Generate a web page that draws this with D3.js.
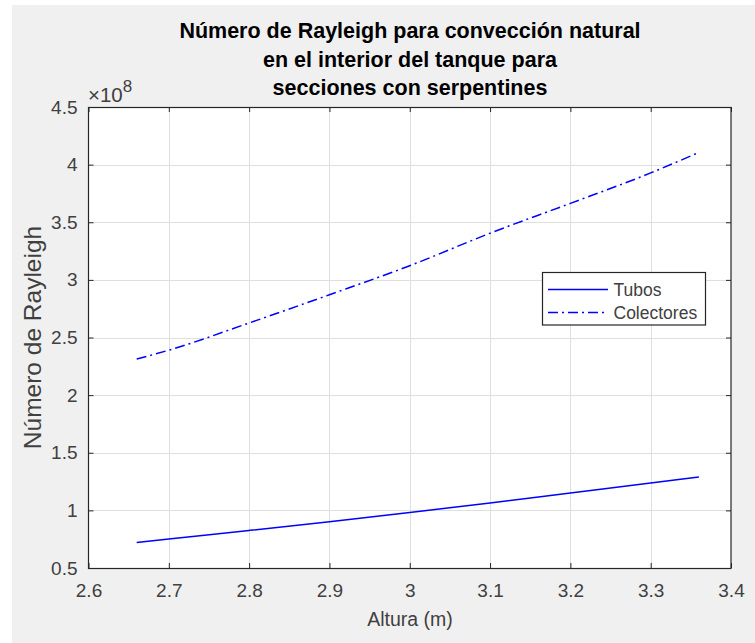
<!DOCTYPE html>
<html>
<head>
<meta charset="utf-8">
<script src="https://cdn.jsdelivr.net/npm/d3@7"></script>
<style>
  html, body { margin: 0; padding: 0; background: #ffffff; }
  svg { display: block; font-family: "Liberation Sans", Arial, Helvetica, sans-serif; }
</style>
</head>
<body>
<svg id="chart" width="755" height="643"></svg>
<script>
// Altura de la sección (m)
const altura = [2.66, 2.70, 2.80, 2.90, 3.00, 3.10, 3.20, 3.30, 3.36];
// Número de Rayleigh (en unidades de 1e8)
const rayleighTubos = [0.722, 0.752, 0.826, 0.902, 0.982, 1.064, 1.151, 1.238, 1.290];
const rayleighColectores = [2.313, 2.390, 2.626, 2.871, 3.123, 3.405, 3.664, 3.928, 4.106];
const seriesNames = ["Tubos", "Colectores"];
const exponent = 8;

const xTicks = [2.6, 2.7, 2.8, 2.9, 3.0, 3.1, 3.2, 3.3, 3.4];
const yTicks = [0.5, 1, 1.5, 2, 2.5, 3, 3.5, 4, 4.5];
const titleLines = [
  "Número de Rayleigh para convección natural",
  "en el interior del tanque para",
  "secciones con serpentines"
];

const svg = d3.select("#chart");
const axisColor = "#262626";
const textColor = "#404040";
const lineColor = "#0000ff";

// figure background
svg.append("rect").attr("x", 12).attr("y", 5).attr("width", 743).attr("height", 638).attr("fill", "#f0f0f0");

const plotLeft = 88.5, plotRight = 731, plotTop = 107, plotBottom = 568;
const x = d3.scaleLinear().domain([2.6, 3.4]).range([plotLeft, plotRight]);
const y = d3.scaleLinear().domain([0.5, 4.5]).range([plotBottom, plotTop]);

// plot area
svg.append("rect").attr("x", plotLeft).attr("y", plotTop)
  .attr("width", plotRight - plotLeft).attr("height", plotBottom - plotTop).attr("fill", "#ffffff");

// grid
const grid = svg.append("g").attr("stroke", "#dfdfdf").attr("stroke-width", 1);
grid.selectAll("line.gx").data(xTicks.slice(1, -1)).join("line")
  .attr("x1", d => Math.round(x(d)) + 0.5).attr("x2", d => Math.round(x(d)) + 0.5)
  .attr("y1", plotTop).attr("y2", plotBottom);
grid.selectAll("line.gy").data(yTicks.slice(1, -1)).join("line")
  .attr("y1", d => Math.round(y(d)) + 0.5).attr("y2", d => Math.round(y(d)) + 0.5)
  .attr("x1", plotLeft).attr("x2", plotRight);

// series
const line = d3.line().x((d, i) => x(altura[i])).y(d => y(d)).curve(d3.curveMonotoneX);
svg.append("path").datum(rayleighTubos).attr("d", line)
  .attr("fill", "none").attr("stroke", lineColor).attr("stroke-width", 1.5);
svg.append("path").datum(rayleighColectores).attr("d", line)
  .attr("fill", "none").attr("stroke", lineColor).attr("stroke-width", 1.5)
  .attr("stroke-dasharray", "10,4,2,4");

// axes with inward ticks on all four sides
const tickLen = 5;
const fmt = d => String(+d.toFixed(1));
const xb = svg.append("g").attr("transform", `translate(0,${plotBottom})`)
  .call(d3.axisBottom(x).tickValues(xTicks).tickFormat(fmt).tickSizeInner(-tickLen).tickSizeOuter(0));
const xt = svg.append("g").attr("transform", `translate(0,${plotTop})`)
  .call(d3.axisTop(x).tickValues(xTicks).tickFormat("").tickSizeInner(-tickLen).tickSizeOuter(0));
const yl = svg.append("g").attr("transform", `translate(${plotLeft},0)`)
  .call(d3.axisLeft(y).tickValues(yTicks).tickFormat(fmt).tickSizeInner(-tickLen).tickSizeOuter(0).tickPadding(tickLen + 6));
const yr = svg.append("g").attr("transform", `translate(${plotRight},0)`)
  .call(d3.axisRight(y).tickValues(yTicks).tickFormat("").tickSizeInner(-tickLen).tickSizeOuter(0));
[xb, xt, yl, yr].forEach(g => {
  g.select(".domain").remove();
  g.selectAll(".tick line").attr("stroke", axisColor);
  g.selectAll(".tick text").attr("fill", textColor)
    .attr("font-family", "Liberation Sans, Arial, sans-serif").attr("font-size", 19);
});
xb.selectAll(".tick text").attr("dy", "0.71em").attr("y", 16);

// axes box
svg.append("rect").attr("x", plotLeft).attr("y", plotTop + 0.5)
  .attr("width", plotRight - plotLeft).attr("height", plotBottom - plotTop)
  .attr("fill", "none").attr("stroke", axisColor).attr("stroke-width", 1.2);

// exponent label
const expo = svg.append("text").attr("x", 88).attr("y", 102).attr("fill", textColor).attr("font-size", 20.5);
expo.append("tspan").text("×10");
expo.append("tspan").attr("font-size", 17).attr("dy", -10).text(exponent);

// axis labels
svg.append("text").attr("x", 410).attr("y", 626).attr("text-anchor", "middle")
  .attr("fill", textColor).attr("font-size", 19.5).text("Altura (m)");
svg.append("text").attr("transform", `translate(41,337.5) rotate(-90)`).attr("text-anchor", "middle")
  .attr("fill", textColor).attr("font-size", 24.5).text("Número de Rayleigh");

// title
svg.append("g").selectAll("text").data(titleLines).join("text")
  .attr("x", 410).attr("y", (d, i) => 38.3 + i * 28.3).attr("text-anchor", "middle")
  .attr("font-weight", "bold").attr("font-size", 21.5).attr("fill", "#000000").text(d => d);

// legend
const lg = svg.append("g");
lg.append("rect").attr("x", 542.5).attr("y", 272.5).attr("width", 163).attr("height", 52.5)
  .attr("fill", "#ffffff").attr("stroke", axisColor).attr("stroke-width", 1.2);
const rows = [289.5, 312.5];
seriesNames.forEach((name, i) => {
  lg.append("line").attr("x1", 548).attr("x2", 608).attr("y1", rows[i]).attr("y2", rows[i])
    .attr("stroke", lineColor).attr("stroke-width", 1.5)
    .attr("stroke-dasharray", i === 1 ? "10,4,2,4" : null);
  lg.append("text").attr("x", 613.5).attr("y", rows[i]).attr("dy", "0.35em")
    .attr("fill", textColor).attr("font-size", 17.5).text(name);
});
</script>
</body>
</html>
